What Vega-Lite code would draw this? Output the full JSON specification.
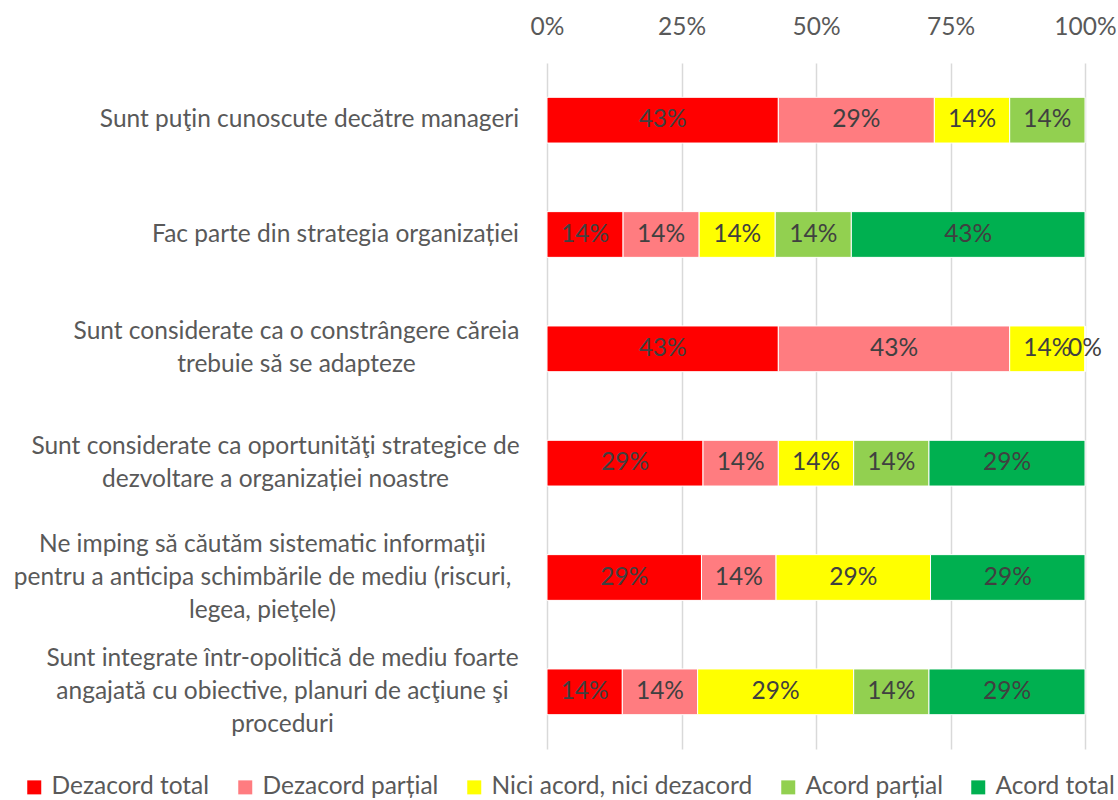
{
  "$schema": "https://vega.github.io/schema/vega-lite/v6.json",
  "width": 538,
  "height": 686,
  "autosize": {"type": "none"},
  "padding": {"left": 547, "top": 63, "right": 33, "bottom": 51},
  "background": "white",
  "config": {
    "view": {"stroke": null},
    "font": "Lato"
  },
  "data": {
    "values": [
      {"q": "Sunt puţin cunoscute decătre manageri", "s": "Dezacord total", "v": 0.43},
      {"q": "Sunt puţin cunoscute decătre manageri", "s": "Dezacord parțial", "v": 0.29},
      {"q": "Sunt puţin cunoscute decătre manageri", "s": "Nici acord, nici dezacord", "v": 0.14},
      {"q": "Sunt puţin cunoscute decătre manageri", "s": "Acord parțial", "v": 0.14},
      {"q": "Fac parte din strategia organizației", "s": "Dezacord total", "v": 0.14},
      {"q": "Fac parte din strategia organizației", "s": "Dezacord parțial", "v": 0.14},
      {"q": "Fac parte din strategia organizației", "s": "Nici acord, nici dezacord", "v": 0.14},
      {"q": "Fac parte din strategia organizației", "s": "Acord parțial", "v": 0.14},
      {"q": "Fac parte din strategia organizației", "s": "Acord total", "v": 0.43},
      {"q": "Sunt considerate ca o constrângere căreia\ntrebuie să se adapteze", "s": "Dezacord total", "v": 0.43},
      {"q": "Sunt considerate ca o constrângere căreia\ntrebuie să se adapteze", "s": "Dezacord parțial", "v": 0.43},
      {"q": "Sunt considerate ca o constrângere căreia\ntrebuie să se adapteze", "s": "Nici acord, nici dezacord", "v": 0.14},
      {"q": "Sunt considerate ca o constrângere căreia\ntrebuie să se adapteze", "s": "Acord parțial", "v": 0},
      {"q": "Sunt considerate ca oportunităţi strategice de\ndezvoltare a organizației noastre", "s": "Dezacord total", "v": 0.29},
      {"q": "Sunt considerate ca oportunităţi strategice de\ndezvoltare a organizației noastre", "s": "Dezacord parțial", "v": 0.14},
      {"q": "Sunt considerate ca oportunităţi strategice de\ndezvoltare a organizației noastre", "s": "Nici acord, nici dezacord", "v": 0.14},
      {"q": "Sunt considerate ca oportunităţi strategice de\ndezvoltare a organizației noastre", "s": "Acord parțial", "v": 0.14},
      {"q": "Sunt considerate ca oportunităţi strategice de\ndezvoltare a organizației noastre", "s": "Acord total", "v": 0.29},
      {"q": "Ne imping să căutăm sistematic informaţii\npentru a anticipa schimbările de mediu (riscuri,\nlegea, pieţele)", "s": "Dezacord total", "v": 0.29},
      {"q": "Ne imping să căutăm sistematic informaţii\npentru a anticipa schimbările de mediu (riscuri,\nlegea, pieţele)", "s": "Dezacord parțial", "v": 0.14},
      {"q": "Ne imping să căutăm sistematic informaţii\npentru a anticipa schimbările de mediu (riscuri,\nlegea, pieţele)", "s": "Nici acord, nici dezacord", "v": 0.29},
      {"q": "Ne imping să căutăm sistematic informaţii\npentru a anticipa schimbările de mediu (riscuri,\nlegea, pieţele)", "s": "Acord total", "v": 0.29},
      {"q": "Sunt integrate într-opolitică de mediu foarte\nangajată cu obiective, planuri de acţiune şi\nproceduri", "s": "Dezacord total", "v": 0.14},
      {"q": "Sunt integrate într-opolitică de mediu foarte\nangajată cu obiective, planuri de acţiune şi\nproceduri", "s": "Dezacord parțial", "v": 0.14},
      {"q": "Sunt integrate într-opolitică de mediu foarte\nangajată cu obiective, planuri de acţiune şi\nproceduri", "s": "Nici acord, nici dezacord", "v": 0.29},
      {"q": "Sunt integrate într-opolitică de mediu foarte\nangajată cu obiective, planuri de acţiune şi\nproceduri", "s": "Acord parțial", "v": 0.14},
      {"q": "Sunt integrate într-opolitică de mediu foarte\nangajată cu obiective, planuri de acţiune şi\nproceduri", "s": "Acord total", "v": 0.29}
    ]
  },
  "transform": [
    {"stack": "v", "groupby": ["q"], "offset": "normalize", "as": ["x0", "x1"]},
    {"calculate": "(datum.x0 + datum.x1) / 2", "as": "xm"}
  ],
  "encoding": {
    "y": {
      "field": "q",
      "type": "nominal",
      "sort": null,
      "scale": {"paddingInner": 0.6, "paddingOuter": 0.3},
      "axis": {
        "title": null,
        "domain": false,
        "ticks": false,
        "labelAlign": "center",
        "labelBaseline": "middle",
        "labelPadding": {
          "condition": [
            {"test": "indexof(datum.value, 'Sunt puţin') == 0", "value": 238},
            {"test": "indexof(datum.value, 'Fac parte') == 0", "value": 212},
            {"test": "indexof(datum.value, 'Sunt considerate ca o constr') == 0", "value": 251},
            {"test": "indexof(datum.value, 'Sunt considerate ca oport') == 0", "value": 272},
            {"test": "indexof(datum.value, 'Ne imping') == 0", "value": 285}
          ],
          "value": 265
        },
        "labelOffset": {
          "condition": [
            {"test": "indexof(datum.value, 'Ne imping') == 0 || indexof(datum.value, 'Sunt integrate') == 0", "value": -33},
            {"test": "indexof(datum.value, 'Sunt considerate') == 0", "value": -16.5}
          ],
          "value": 0
        },
        "labelLimit": 700,
        "labelFontSize": 24.5,
        "labelLineHeight": 33,
        "labelColor": "#595959",
        "labelFont": "Lato",
        "labelExpr": "split(datum.label, '\\n')"
      }
    }
  },
  "layer": [
    {
      "mark": {"type": "bar", "stroke": "white", "strokeWidth": 1},
      "encoding": {
        "x": {
          "field": "x0",
          "type": "quantitative",
          "scale": {"domain": [0, 1], "nice": false},
          "axis": {
            "orient": "top",
            "title": null,
            "domain": false,
            "ticks": false,
            "grid": true,
            "gridColor": "#D9D9D9",
            "gridWidth": 1.5,
            "values": [0, 0.25, 0.5, 0.75, 1],
            "format": ".0%",
            "labelFontSize": 24.5,
            "labelColor": "#595959",
            "labelFont": "Lato",
            "labelPadding": 24,
            "labelFlush": false
          }
        },
        "x2": {"field": "x1"},
        "color": {
          "field": "s",
          "type": "nominal",
          "scale": {
            "domain": ["Dezacord total", "Dezacord parțial", "Nici acord, nici dezacord", "Acord parțial", "Acord total"],
            "range": ["#FF0000", "#FF7C80", "#FFFF00", "#92D050", "#00B050"]
          },
          "legend": {
            "title": null,
            "orient": "none",
            "direction": "horizontal",
            "legendX": -525,
            "legendY": 712,
            "symbolType": "square",
            "symbolSize": 196,
            "symbolStrokeWidth": 0,
            "symbolOpacity": 1,
            "labelFontSize": 24.5,
            "labelFont": "Lato",
            "labelColor": "#595959",
            "labelOffset": 5,
            "columnPadding": 23,
            "labelLimit": 400
          }
        }
      }
    },
    {
      "mark": {"type": "text", "fontSize": 24.5, "color": "#404040", "font": "Lato", "align": "center", "baseline": "middle"},
      "encoding": {
        "x": {"field": "xm", "type": "quantitative"},
        "text": {"field": "v", "type": "quantitative", "format": ".0%"}
      }
    }
  ]
}
